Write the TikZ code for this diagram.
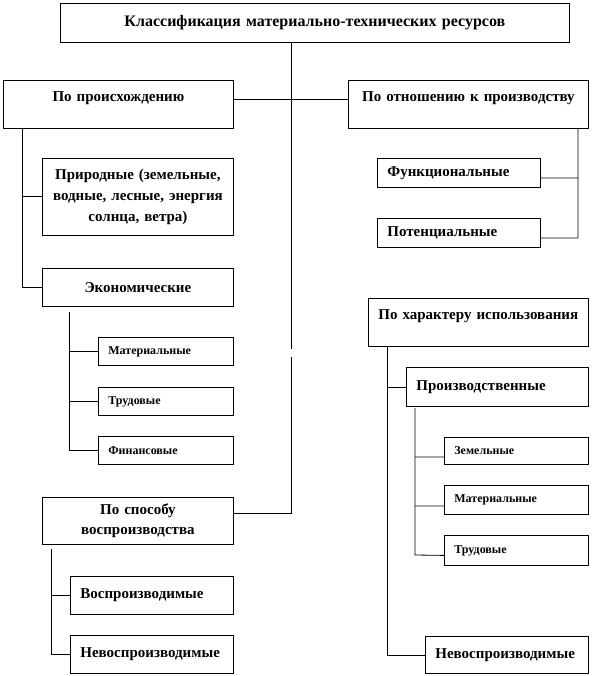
\documentclass[tikz,border=0pt]{standalone}
\usepackage{fontspec}
\setmainfont{Liberation Serif}
\usepackage{tikz}
\tikzset{
  mtbox/.style={draw=black, line width=0.8pt, anchor=north west, inner xsep=10pt, inner ysep=0pt,
    font=\bfseries\fontsize{15}{20}\selectfont},
  mtmid/.style={mtbox, align=center},
  mtleft/.style={mtbox, align=left},
  mtsmall/.style={mtleft, font=\bfseries\fontsize{12}{14}\selectfont},
  mtline/.style={line width=0.8pt, draw=black},
}
\begin{document}
\begin{tikzpicture}[x=1pt, y=-1pt]
\useasboundingbox (0,0) rectangle (591,676);
% boxes
\node[mtmid, minimum width=509pt, minimum height=39pt, text width=489pt, font=\bfseries\fontsize{16}{20}\selectfont] (title) at (60,3) {Классификация материально-технических ресурсов};
\node[mtmid, minimum width=230pt, minimum height=48pt, text width=210pt] (porig) at (3,80) {По происхождению\\[-10pt]\strut};
\node[mtmid, minimum width=240pt, minimum height=48pt, text width=220pt] (potn) at (348,80) {По отношению к производству\\[-10pt]\strut};
\node[mtmid, minimum width=191pt, minimum height=77pt, text width=183pt, inner xsep=4pt, font=\bfseries\fontsize{15}{21}\selectfont] (prir) at (42,158) {Природные (земельные,\\водные, лесные, энергия\\солнца, ветра)};
\node[mtmid, minimum width=191pt, minimum height=38pt, text width=171pt] (ekon) at (42,268) {Экономические};
\node[mtsmall, minimum width=135pt, minimum height=28pt, text width=115pt] (mat1) at (98,337) {Материальные};
\node[mtsmall, minimum width=135pt, minimum height=28pt, text width=115pt] (trud1) at (98,387) {Трудовые};
\node[mtsmall, minimum width=135pt, minimum height=28pt, text width=115pt] (fin) at (98,436) {Финансовые};
\node[mtmid, minimum width=191pt, minimum height=47pt, text width=171pt] (sposob) at (42,497) {По способу\\воспроизводства};
\node[mtleft, minimum width=163pt, minimum height=38pt, text width=143pt] (vosp) at (70,576) {Воспроизводимые};
\node[mtleft, minimum width=163pt, minimum height=38pt, text width=143pt] (nevosp1) at (70,635) {Невоспроизводимые};
\node[mtleft, minimum width=163pt, minimum height=29pt, text width=143pt] (func) at (377,158) {Функциональные};
\node[mtleft, minimum width=163pt, minimum height=29pt, text width=143pt] (pot) at (377,218) {Потенциальные};
\node[mtleft, minimum width=220pt, minimum height=48pt, text width=200pt] (harakt) at (368,298) {\mbox{По характеру использования}\\[-10pt]\strut};
\node[mtleft, minimum width=182pt, minimum height=39pt, text width=162pt] (proizv) at (406,367) {Производственные};
\node[mtsmall, minimum width=144pt, minimum height=27pt, text width=124pt] (zem) at (444,437) {Земельные};
\node[mtsmall, minimum width=144pt, minimum height=29pt, text width=124pt] (mat2) at (444,485) {Материальные};
\node[mtsmall, minimum width=144pt, minimum height=30pt, text width=124pt] (trud2) at (444,535) {Трудовые};
\node[mtleft, minimum width=163pt, minimum height=37pt, text width=143pt] (nevosp2) at (425,636) {Невоспроизводимые};
% spines
\coordinate (trunk) at (291,513);
\coordinate (lspine) at (22,284);
\coordinate (espine) at (69,312);
\coordinate (sspine) at (51,549);
\coordinate (rspine) at (578,128);
\coordinate (hspine) at (387,346);
\coordinate (pspine) at (415,408);
% connectors
\draw[mtline] (title.south -| trunk) -- (trunk |- 0,349);
\draw[mtline] (trunk |- 0,357) -- (trunk) -- (trunk -| sposob.east);
\draw[mtline] ([yshift=5pt]porig.east) -- ([yshift=5pt]potn.west);
\draw[mtline] (porig.south -| lspine) -- (lspine |- ekon.west) -- (ekon.west);
\draw[mtline] (lspine |- prir.west) -- (prir.west);
\draw[mtline] (espine) -- (espine |- fin.west) -- (fin.west);
\draw[mtline] (espine |- mat1.west) -- (mat1.west);
\draw[mtline] (espine |- trud1.west) -- (trud1.west);
\draw[mtline] (sspine) -- (sspine |- nevosp1.west) -- (nevosp1.west);
\draw[mtline] (sspine |- vosp.west) -- (vosp.west);
\draw[mtline] (rspine) -- (rspine |- 0,238) -- ([yshift=-5pt]pot.east);
\draw[mtline] ([yshift=-5pt]func.east) -- (rspine |- 0,178);
\draw[mtline] (hspine) -- (hspine |- nevosp2.west) -- (nevosp2.west);
\draw[mtline] (hspine |- proizv.west) -- (proizv.west);
\draw[mtline] (pspine) -- (pspine |- 0,555) -- ([yshift=-5pt]trud2.west);
\draw[mtline] (pspine |- 0,457) -- ([yshift=-6pt]zem.west);
\draw[mtline] (pspine |- 0,506) -- ([yshift=-6pt]mat2.west);
\end{tikzpicture}
\end{document}
